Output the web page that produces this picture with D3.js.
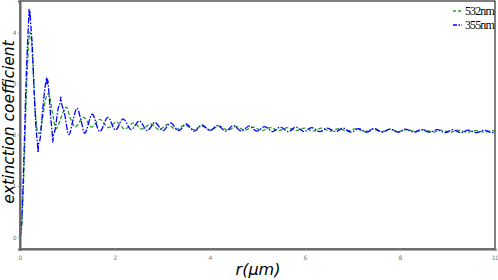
<!DOCTYPE html>
<html><head><meta charset="utf-8">
<script src="https://cdn.jsdelivr.net/npm/d3@7"></script>
<style>body{margin:0;background:#fff}svg{display:block}</style>
</head><body>
<script>
// 532nm series (green, dashed): radius (µm) and extinction coefficient
const r532 = [0,0.03,0.06,0.09,0.12,0.15,0.18,0.21,0.24,0.28,0.32,0.36,0.41,0.47,0.53,0.6,0.68,0.76,0.87,0.97,1.07,1.16,1.34,1.51,1.68,1.86,
  2.03,2.21,2.39,2.57,2.75,2.93,3.11,3.29,3.47,3.65,3.83,4.01,4.19,4.37,4.55,4.73,4.91,5.09,5.27,5.45,5.63,5.81,5.99,6.17,6.35,6.53,6.71,6.89,
  7.07,7.25,7.43,7.61,7.79,7.97,8.15,8.33,8.51,8.69,8.87,9.05,9.23,9.41,9.59,9.77,9.95,10.0];
const q532 = [0,0.15,0.7,1.5,2.4,3.2,3.75,4.0,3.85,3.2,2.5,2.1,2.02,2.3,2.65,2.8,2.45,2.12,2.35,2.54,2.3,2.15,2.34,2.15,2.3,2.14,
  2.25,2.11,2.23,2.11,2.21,2.10,2.20,2.10,2.19,2.10,2.17,2.09,2.17,2.09,2.16,2.09,2.15,2.08,2.14,2.08,2.14,2.08,2.13,2.07,2.13,2.07,2.12,2.07,
  2.12,2.06,2.11,2.06,2.11,2.06,2.10,2.06,2.10,2.05,2.09,2.05,2.09,2.05,2.08,2.05,2.08,2.07];
// 355nm series (blue, dash-dot)
const r355 = [0,0.03,0.06,0.09,0.12,0.15,0.18,0.19,0.2,0.21,0.22,0.26,0.3,0.34,0.37,0.38,0.39,0.42,0.48,0.53,0.55,0.56,0.57,0.58,0.61,0.65,0.68,0.69,0.7,0.74,0.8,0.85,0.86,0.87,0.93,1.03,1.12,1.2,1.28,1.36,1.52,1.68,1.85,2.01,2.17,2.34,
  2.51,2.68,2.84,3.01,3.17,3.34,3.50,3.67,3.83,4.00,4.16,4.33,4.49,4.66,4.82,4.99,5.15,5.32,5.48,5.65,5.81,5.98,6.14,6.31,6.47,6.64,6.80,6.97,
  7.13,7.30,7.46,7.63,7.79,7.96,8.12,8.29,8.45,8.62,8.78,8.95,9.11,9.28,9.44,9.61,9.77,9.94,10.0];
const q355 = [0,0.2,0.9,1.8,2.8,3.6,4.2,4.45,4.3,4.42,4.25,3.7,2.8,2.1,1.8,1.65,1.8,1.9,2.5,2.95,3.05,3.12,2.98,3.08,2.8,2.3,2.0,1.85,1.95,2.1,2.5,2.66,2.74,2.64,2.45,2.0,2.3,2.52,2.3,2.03,2.4,2.06,2.34,2.09,2.31,2.1,
  2.27,2.08,2.24,2.08,2.23,2.08,2.21,2.07,2.19,2.08,2.18,2.07,2.18,2.07,2.17,2.07,2.16,2.06,2.15,2.06,2.15,2.06,2.14,2.06,2.13,2.06,2.13,2.05,
  2.12,2.05,2.12,2.05,2.11,2.05,2.11,2.05,2.10,2.05,2.10,2.04,2.10,2.04,2.09,2.04,2.09,2.04,2.05];
const xTicks = [0,2,4,6,8,10];
const yTicks = [0,1,2,3,4];
const seriesNames = ["532nm","355nm"];

const W = 498, H = 280;
const m = {l:20, r:3, t:1, b:31};
const svg = d3.select("body").append("svg").attr("width",W).attr("height",H);
const x = d3.scaleLinear().domain([0,10]).range([m.l, W-m.r]);
const y = d3.scaleLinear().domain([-0.23,4.61]).range([H-m.b, m.t]);

const series = [
  {name:seriesNames[0], r:r532, q:q532, color:"#2a9a2a", dash:"4,2"},
  {name:seriesNames[1], r:r355, q:q355, color:"#0000ff", dash:"6,1.6,1.5,1.6"}
];
const line = d3.line().x(d=>x(d[0])).y(d=>y(d[1])).curve(d3.curveMonotoneX);
series.forEach(s=>{
  svg.append("path").datum(s.r.map((v,i)=>[v,s.q[i]]))
    .attr("d",line).attr("fill","none").attr("stroke",s.color)
    .attr("stroke-width",1.3).attr("stroke-dasharray",s.dash);
});

// frame
svg.append("rect").attr("x",m.l).attr("y",m.t).attr("width",W-m.r-m.l).attr("height",H-m.b-m.t)
  .attr("fill","none").attr("stroke","#000").attr("stroke-width",1);

const xa = svg.append("g").attr("transform",`translate(0,${H-m.b})`)
  .call(d3.axisBottom(x).tickValues(xTicks).tickSize(2).tickPadding(5).tickFormat(d3.format("d")));
const ya = svg.append("g").attr("transform",`translate(${m.l},0)`)
  .call(d3.axisLeft(y).tickValues(yTicks).tickSize(2).tickPadding(1.5).tickFormat(d3.format("d")));
[xa,ya].forEach(a=>{
  a.select(".domain").attr("stroke","#666").attr("stroke-width",2);
  a.selectAll(".tick line").attr("stroke","#999");
  a.selectAll("text").attr("font-family","DejaVu Sans").attr("font-size",6).attr("fill","#777");
});

svg.append("text").attr("x",258).attr("y",275).attr("text-anchor","middle")
  .attr("font-family","DejaVu Sans").attr("font-style","italic").attr("font-size",16).text("r(μm)");
svg.append("text").attr("transform","translate(14,122) rotate(-90)").attr("text-anchor","middle")
  .attr("font-family","DejaVu Sans").attr("font-style","italic").attr("font-size",15.5).text("extinction coefficient");

// legend
series.forEach((s,i)=>{
  const ly = 11 + i*14;
  svg.append("line").attr("x1",453).attr("x2",462).attr("y1",ly).attr("y2",ly)
    .attr("stroke",s.color).attr("stroke-width",1.3).attr("stroke-dasharray", i===0?"3,2":"4,1.5,1.5,1.5");
  svg.append("text").attr("x",465).attr("y",ly+4).attr("font-family","Liberation Serif")
    .attr("font-size",12).attr("letter-spacing",-0.9).text(s.name);
});
</script>
</body></html>
